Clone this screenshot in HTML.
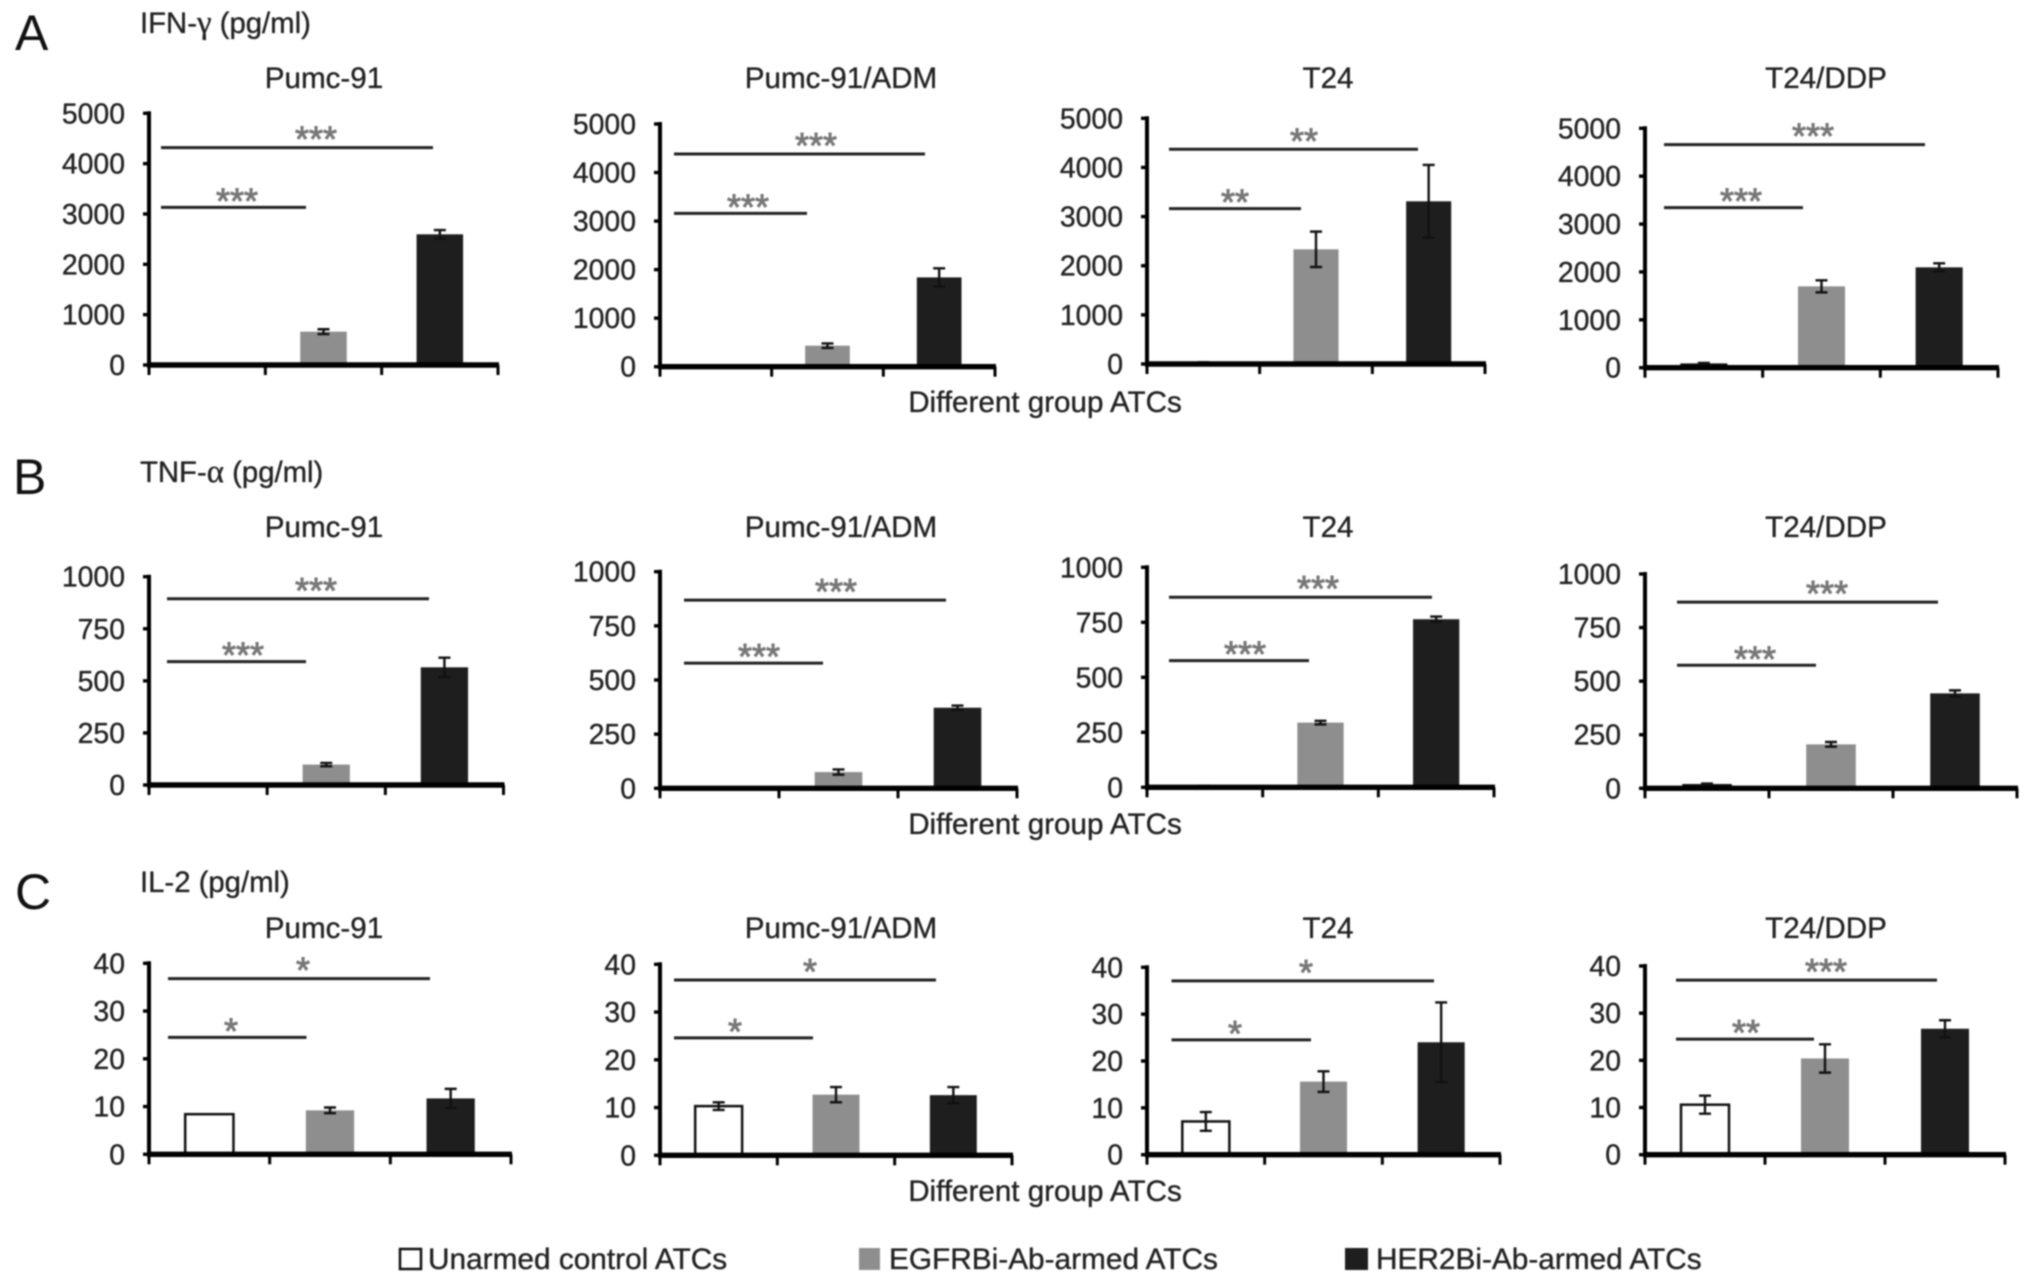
<!DOCTYPE html>
<html lang="en">
<head>
<meta charset="utf-8">
<title>Cytokine secretion by ATC groups</title>
<style>
html,body{margin:0;padding:0;background:#fff;width:2032px;height:1285px;overflow:hidden}
svg{display:block;filter:blur(0.8px)}
text{font-family:"Liberation Sans",sans-serif;fill:#222;stroke:#222;stroke-width:0.35px}
.panel-title{font-size:29.6px;text-anchor:middle}
.section{font-size:29.3px}
.letter{font-size:50px;fill:#111;stroke:none}
.xlabel{font-size:29.6px;text-anchor:middle}
.legend{font-size:29.8px}
.tick{font-size:28.4px;text-anchor:end}
.star{font-size:36px;text-anchor:middle;fill:#777;stroke:#777;stroke-width:0.9px}
.greek{font-family:"Liberation Serif",serif;font-size:33px}
</style>
</head>
<body>
<svg id="figure" xmlns="http://www.w3.org/2000/svg" width="2032" height="1285" viewBox="0 0 2032 1285">
  <rect x="0" y="0" width="2032" height="1285" fill="#fff"/>

  <text class="letter" x="15" y="50">A</text>
  <text class="letter" x="13" y="494">B</text>
  <text class="letter" x="15" y="909">C</text>

  <text class="section" x="140" y="33">IFN-<tspan class="greek">γ</tspan> (pg/ml)</text>
  <text class="section" x="140" y="482">TNF-<tspan class="greek">α</tspan> (pg/ml)</text>
  <text class="section" x="140" y="892">IL-2 (pg/ml)</text>

  <text class="panel-title" x="324" y="88">Pumc-91</text>
  <text class="panel-title" x="841" y="88">Pumc-91/ADM</text>
  <text class="panel-title" x="1328" y="88">T24</text>
  <text class="panel-title" x="1826" y="88">T24/DDP</text>

  <text class="panel-title" x="324" y="537">Pumc-91</text>
  <text class="panel-title" x="841" y="537">Pumc-91/ADM</text>
  <text class="panel-title" x="1328" y="537">T24</text>
  <text class="panel-title" x="1826" y="537">T24/DDP</text>

  <text class="panel-title" x="324" y="938">Pumc-91</text>
  <text class="panel-title" x="841" y="938">Pumc-91/ADM</text>
  <text class="panel-title" x="1328" y="938">T24</text>
  <text class="panel-title" x="1826" y="938">T24/DDP</text>

  <text class="xlabel" x="1045" y="412">Different group ATCs</text>
  <text class="xlabel" x="1045" y="834">Different group ATCs</text>
  <text class="xlabel" x="1045" y="1201">Different group ATCs</text>

  <g>
    <g>
      <rect x="400" y="1249" width="21" height="20" fill="#fff" stroke="#111" stroke-width="2.5"/>
      <text class="legend" x="428" y="1269">Unarmed control ATCs</text>
    </g>
    <g>
      <rect x="859" y="1248" width="21" height="22" fill="#8e8e8e"/>
      <text class="legend" x="889" y="1269">EGFRBi-Ab-armed ATCs</text>
    </g>
    <g>
      <rect x="1345" y="1248" width="23" height="22" fill="#1e1e1e"/>
      <text class="legend" x="1376" y="1269">HER2Bi-Ab-armed ATCs</text>
    </g>
  </g>
  <g id="charts"></g>
</svg>

<script>
// ---- Data ----
const categories = ["Unarmed control ATCs", "EGFRBi-Ab-armed ATCs", "HER2Bi-Ab-armed ATCs"];
const cellLines = ["Pumc-91", "Pumc-91/ADM", "T24", "T24/DDP"];

const ifnTicks = [0, 1000, 2000, 3000, 4000, 5000];
const tnfTicks = [0, 250, 500, 750, 1000];
const il2Ticks = [0, 10, 20, 30, 40];

const ifnPumc91 = [0, 662, 2596];
const ifnPumc91Adm = [0, 433, 1840];
const ifnT24 = [25, 2334, 3311];
const ifnT24Ddp = [90, 1699, 2096];
const ifnPumc91Err = [0, 48, 84];
const ifnPumc91AdmErr = [0, 47, 186];
const ifnT24Err = [10, 360, 740];
const ifnT24DdpErr = [8, 126, 84];

const tnfPumc91 = [5, 98, 565];
const tnfPumc91Adm = [0, 75, 372];
const tnfT24 = [5, 294, 764];
const tnfT24Ddp = [20, 205, 443];
const tnfPumc91Err = [1, 8, 46];
const tnfPumc91AdmErr = [0, 12, 10];
const tnfT24Err = [1, 8, 12];
const tnfT24DdpErr = [2, 11, 14];

const il2Pumc91 = [8.4, 9.2, 11.7];
const il2Pumc91Adm = [10.3, 12.7, 12.6];
const il2T24 = [7.1, 15.6, 24];
const il2T24Ddp = [10.6, 20.4, 26.7];
const il2Pumc91Err = [0, 0.6, 2];
const il2Pumc91AdmErr = [0.8, 1.6, 1.7];
const il2T24Err = [2, 2.2, 8.5];
const il2T24DdpErr = [1.9, 3, 1.8];

// significance: [upper bracket value, lower bracket value]
const ifnSigLevels = [[4318, 3132], [4382, 3159], [4369, 3161], [4659, 3343]];
const tnfSigLevels = [[894, 592], [869, 578], [864, 576], [869, 574]];
const il2SigLevels = [[36.8, 24.5], [36.7, 24.6], [37.1, 24.5], [37.0, 24.5]];
// significance labels: [upper, lower]
const ifnSigLabels = [["***", "***"], ["***", "***"], ["**", "**"], ["***", "***"]];
const tnfSigLabels = [["***", "***"], ["***", "***"], ["***", "***"], ["***", "***"]];
const il2SigLabels = [["*", "*"], ["*", "*"], ["*", "*"], ["***", "**"]];

// ---- Layout (pixels) ----
const layoutIfn = [
  {x0: 149, x1: 498, top: 113.3, base: 365, sx: 161, up: 433, low: 306, su: 316, sl: 237},
  {x0: 660, x1: 995, top: 124, base: 366.7, sx: 674, up: 925, low: 807, su: 816, sl: 748},
  {x0: 1147, x1: 1485, top: 118.3, base: 364, sx: 1169, up: 1418, low: 1301, su: 1304, sl: 1235},
  {x0: 1645, x1: 1998, top: 128.3, base: 367.7, sx: 1664, up: 1925, low: 1803, su: 1813, sl: 1741}
];
const layoutTnf = [
  {x0: 149, x1: 503.5, top: 576.7, base: 785, sx: 167, up: 429, low: 306, su: 316, sl: 243},
  {x0: 660, x1: 1017, top: 571.7, base: 788.3, sx: 684, up: 946, low: 823, su: 836, sl: 759},
  {x0: 1147, x1: 1494, top: 567.3, base: 787.3, sx: 1169, up: 1432, low: 1309, su: 1318, sl: 1245},
  {x0: 1645, x1: 2017, top: 574, base: 788.3, sx: 1677, up: 1938, low: 1816, su: 1827, sl: 1755}
];
const layoutIl2 = [
  {x0: 149, x1: 511, top: 963.3, base: 1154.3, sx: 168, up: 430, low: 306.5, su: 303, sl: 231},
  {x0: 660, x1: 1012, top: 964.3, base: 1155.3, sx: 674, up: 936, low: 813, su: 810, sl: 735},
  {x0: 1147, x1: 1500, top: 967.3, base: 1154.7, sx: 1171.5, up: 1434, low: 1311, su: 1306, sl: 1235},
  {x0: 1645, x1: 2005, top: 966, base: 1154.7, sx: 1676, up: 1937, low: 1814, su: 1826, sl: 1746}
];

const barFills = ["#ffffff", "#8e8e8e", "#1e1e1e"];
const barKeys = ["unarmed", "egfr", "her2"];
const NS = "http://www.w3.org/2000/svg";
const root = document.getElementById("charts");

function make(tag, attrs, parent) {
  const node = document.createElementNS(NS, tag);
  for (const k in attrs) node.setAttribute(k, attrs[k]);
  parent.appendChild(node);
  return node;
}

function drawPanel(parent, slug, box, ticks, means, errs, sigLevels, sigLabels, smallBarsDark) {
  const maxV = ticks[ticks.length - 1];
  const yScale = function (v) { return box.base - (v / maxV) * (box.base - box.top); };
  const band = (box.x1 - box.x0) / means.length;
  const xCenter = function (i) { return box.x0 + band * (i + 0.5); };
  const barW = band * 0.4;

  const g = make("g", {}, parent);
  
  

  // bars
  means.forEach(function (v, i) {
    const y = yScale(v);
    const outlined = i === 0 && v > 0 && !smallBarsDark;
    const bar = make("rect", {
      x: xCenter(i) - barW / 2, y: y, width: barW, height: Math.max(0, box.base - y),
      fill: (i === 0 && smallBarsDark) ? "#111" : barFills[i],
      stroke: outlined ? "#111" : "none",
      "stroke-width": outlined ? 2.5 : 0
    }, g);
    
    
  });

  // error bars
  errs.forEach(function (e, i) {
    if (!(e > 0) || !(means[i] > 0)) return;
    const cx = xCenter(i);
    const yHi = yScale(means[i] + e);
    const yLo = yScale(Math.max(0, means[i] - e));
    const eb = make("path", {
      d: "M" + cx + " " + yHi + "V" + yLo +
         "M" + (cx - 6) + " " + yHi + "H" + (cx + 6) +
         "M" + (cx - 6) + " " + yLo + "H" + (cx + 6),
      fill: "none", stroke: "#111", "stroke-width": 2.4
    }, g);
    
    
  });

  // y axis
  const yAxis = make("line", {x1: box.x0, x2: box.x0, y1: box.top - 2, y2: box.base + 2, stroke: "#000", "stroke-width": 4}, g);
  
  

  ticks.forEach(function (t) {
    const y = yScale(t);
    const tk = make("line", {x1: box.x0 - 6, x2: box.x0, y1: y, y2: y, stroke: "#000", "stroke-width": 3.4}, g);
    
    
    const lab = make("text", {"class": "tick", x: box.x0 - 24, y: y + 10}, g);
    lab.textContent = String(t);
    
    
  });

  // x axis
  const xAxis = make("line", {x1: box.x0 - 2, x2: box.x1 + 1, y1: box.base, y2: box.base, stroke: "#000", "stroke-width": 5.4}, g);
  
  

  for (let i = 0; i <= means.length; i++) {
    const x = box.x0 + band * i;
    const xt = make("line", {x1: x, x2: x, y1: box.base, y2: box.base + 10, stroke: "#000", "stroke-width": 3}, g);
    
    
  }

  // significance brackets
  const yUp = yScale(sigLevels[0]);
  const yLow = yScale(sigLevels[1]);

  const upLine = make("line", {x1: box.sx, x2: box.up, y1: yUp, y2: yUp, stroke: "#222", "stroke-width": 3}, g);
  
  

  const lowLine = make("line", {x1: box.sx, x2: box.low, y1: yLow, y2: yLow, stroke: "#222", "stroke-width": 3}, g);
  
  

  const upStar = make("text", {"class": "star", x: box.su, y: yUp - 16 + 20}, g);
  upStar.textContent = sigLabels[0];
  
  

  const lowStar = make("text", {"class": "star", x: box.sl, y: yLow - 14 + 20}, g);
  lowStar.textContent = sigLabels[1];
  
  
}

const cellSlugs = ["pumc-91", "pumc-91-adm", "t24", "t24-ddp"];
const ifnMeans = [ifnPumc91, ifnPumc91Adm, ifnT24, ifnT24Ddp];
const ifnErrs = [ifnPumc91Err, ifnPumc91AdmErr, ifnT24Err, ifnT24DdpErr];
const tnfMeans = [tnfPumc91, tnfPumc91Adm, tnfT24, tnfT24Ddp];
const tnfErrs = [tnfPumc91Err, tnfPumc91AdmErr, tnfT24Err, tnfT24DdpErr];
const il2Means = [il2Pumc91, il2Pumc91Adm, il2T24, il2T24Ddp];
const il2Errs = [il2Pumc91Err, il2Pumc91AdmErr, il2T24Err, il2T24DdpErr];

cellLines.forEach(function (name, i) {
  drawPanel(root, "ifn-" + cellSlugs[i], layoutIfn[i], ifnTicks, ifnMeans[i], ifnErrs[i], ifnSigLevels[i], ifnSigLabels[i], true);
  drawPanel(root, "tnf-" + cellSlugs[i], layoutTnf[i], tnfTicks, tnfMeans[i], tnfErrs[i], tnfSigLevels[i], tnfSigLabels[i], true);
  drawPanel(root, "il2-" + cellSlugs[i], layoutIl2[i], il2Ticks, il2Means[i], il2Errs[i], il2SigLevels[i], il2SigLabels[i], false);
});
</script>
</body>
</html>
